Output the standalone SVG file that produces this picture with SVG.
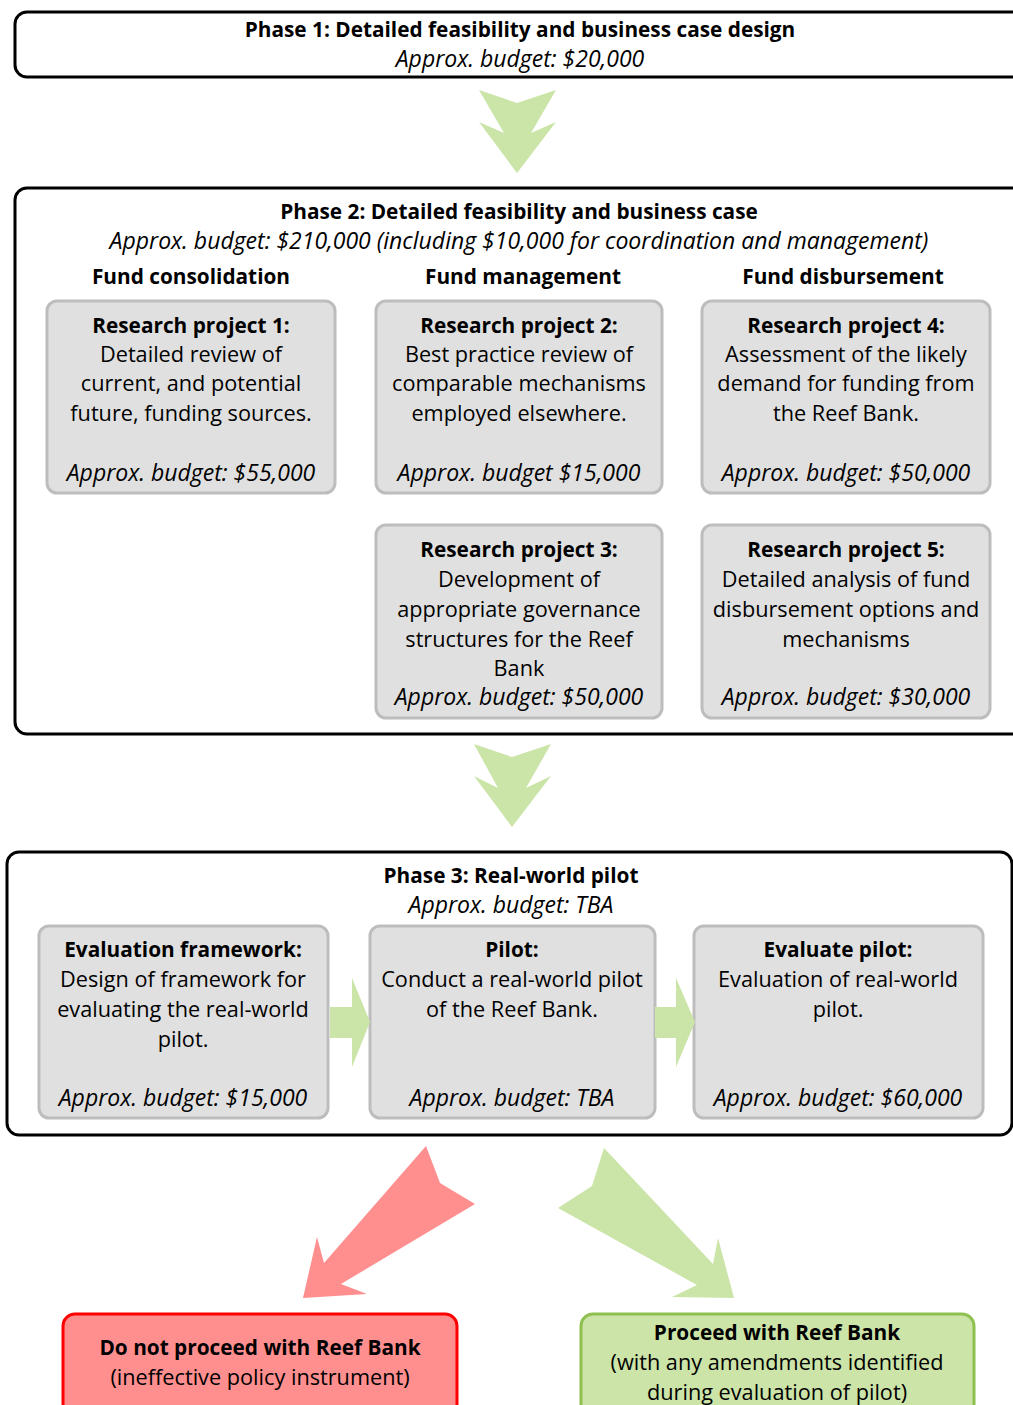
<svg xmlns="http://www.w3.org/2000/svg" width="1013" height="1405" viewBox="0 0 1013 1405">
<style>
text{font-family:"Open Sans","DejaVu Sans",sans-serif;font-size:21.7px;fill:#000;text-anchor:middle}
.b{font-weight:bold;font-size:20.8px}
.i{font-style:italic;font-size:23px}
.phase{fill:#fff;stroke:#000;stroke-width:3}
.rp{fill:#e0e0e0;stroke:#bdbdbd;stroke-width:3}
.ga{fill:#cbe4a8}
.ra{fill:#ff8f8f}
</style>
<rect width="1013" height="1405" fill="#fff"/>
<g id="phase1">
<rect class="phase" x="15" y="12" width="1010" height="65" rx="12"/>
<text class="b" x="520" y="37">Phase 1: Detailed feasibility and  business case design</text>
<text class="i" x="520" y="67">Approx. budget: $20,000</text>
</g>
<g id="phase2">
<rect class="phase" x="15" y="188" width="1010" height="546" rx="12"/>
<text class="b" x="519" y="219">Phase 2: Detailed feasibility and business case</text>
<text class="i" x="519" y="249">Approx. budget: $210,000 (including $10,000 for coordination and management)</text>
<text class="b" x="191" y="284">Fund consolidation</text>
<text class="b" x="523" y="284">Fund management</text>
<text class="b" x="843" y="284">Fund disbursement</text>
</g>
<g id="rp1">
<rect class="rp" x="47" y="301" width="288" height="192" rx="10"/>
<text class="b" x="191" y="333">Research project 1:</text>
<text x="191" y="362">Detailed review of</text>
<text x="191" y="391">current, and potential</text>
<text x="191" y="421">future, funding sources.</text>
<text class="i" x="191" y="481">Approx. budget: $55,000</text>
</g>
<g id="rp2">
<rect class="rp" x="376" y="301" width="286" height="192" rx="10"/>
<text class="b" x="519" y="333">Research project 2:</text>
<text x="519" y="362">Best practice review of</text>
<text x="519" y="391">comparable mechanisms</text>
<text x="519" y="421">employed elsewhere.</text>
<text class="i" x="519" y="481">Approx. budget $15,000</text>
</g>
<g id="rp4">
<rect class="rp" x="702" y="301" width="288" height="192" rx="10"/>
<text class="b" x="846" y="333">Research project 4:</text>
<text x="846" y="362">Assessment of the likely</text>
<text x="846" y="391">demand for funding from</text>
<text x="846" y="421">the Reef Bank.</text>
<text class="i" x="846" y="481">Approx. budget: $50,000</text>
</g>
<g id="rp3">
<rect class="rp" x="376" y="525" width="286" height="193" rx="10"/>
<text class="b" x="519" y="557">Research project 3:</text>
<text x="519" y="587">Development of</text>
<text x="519" y="617">appropriate governance</text>
<text x="519" y="647">structures for the Reef</text>
<text x="519" y="676">Bank</text>
<text class="i" x="519" y="705">Approx. budget: $50,000</text>
</g>
<g id="rp5">
<rect class="rp" x="702" y="525" width="288" height="193" rx="10"/>
<text class="b" x="846" y="557">Research project 5:</text>
<text x="846" y="587">Detailed analysis of fund</text>
<text x="846" y="617">disbursement options and</text>
<text x="846" y="647">mechanisms</text>
<text class="i" x="846" y="705">Approx. budget: $30,000</text>
</g>
<g id="phase3">
<rect class="phase" x="7" y="852" width="1005" height="283" rx="12"/>
<text class="b" x="511" y="883">Phase 3: Real-world pilot</text>
<text class="i" x="511" y="913">Approx. budget: TBA</text>
</g>
<g id="eval-framework">
<rect class="rp" x="39" y="926" width="289" height="192" rx="10"/>
<text class="b" x="183" y="957">Evaluation framework:</text>
<text x="183" y="987">Design of framework for</text>
<text x="183" y="1017">evaluating the real-world</text>
<text x="183" y="1047">pilot.</text>
<text class="i" x="183" y="1106">Approx. budget: $15,000</text>
</g>
<g id="pilot">
<rect class="rp" x="370" y="926" width="285" height="192" rx="10"/>
<text class="b" x="512" y="957">Pilot:</text>
<text x="512" y="987">Conduct a real-world pilot</text>
<text x="512" y="1017">of the Reef Bank.</text>
<text class="i" x="512" y="1106">Approx. budget: TBA</text>
</g>
<g id="evaluate-pilot">
<rect class="rp" x="694" y="926" width="289" height="192" rx="10"/>
<text class="b" x="838" y="957">Evaluate pilot:</text>
<text x="838" y="987">Evaluation of real-world</text>
<text x="838" y="1017">pilot.</text>
<text class="i" x="838" y="1106">Approx. budget: $60,000</text>
</g>
<g id="no-proceed">
<rect x="63" y="1314" width="394" height="110" rx="12" fill="#ff8f8f" stroke="#ff0000" stroke-width="3"/>
<text class="b" x="260" y="1355">Do not proceed with Reef Bank</text>
<text x="260" y="1385">(ineffective policy instrument)</text>
</g>
<g id="proceed">
<rect x="581" y="1314" width="393" height="110" rx="12" fill="#cce4a8" stroke="#8dc04f" stroke-width="3"/>
<text class="b" x="777" y="1340">Proceed with Reef Bank</text>
<text x="777" y="1370">(with any amendments identified</text>
<text x="777" y="1400">during evaluation of pilot)</text>
</g>
<g id="connectors">
<polygon class="ga" points="479,90 517,103 556,90 531,133 556,122 517,173 479,122 504,133"/>
<polygon class="ga" points="474,744 512,757 551,744 526,788 551,776 512,827 474,776 498,788"/>
<polygon class="ga" points="330,1007 352,1007 352,978 370,1022 352,1067 352,1038 330,1038"/>
<polygon class="ga" points="655,1007 676,1007 676,978 695,1022 676,1067 676,1038 655,1038"/>
<polygon class="ra" points="426,1146 440,1183 475,1204 341,1284 367,1294 303,1298 317,1237 324,1263"/>
<polygon class="ga" points="604,1148 713,1264 718,1238 734,1298 672,1297 697,1285 558,1208 592,1186"/>
</g>
</svg>
